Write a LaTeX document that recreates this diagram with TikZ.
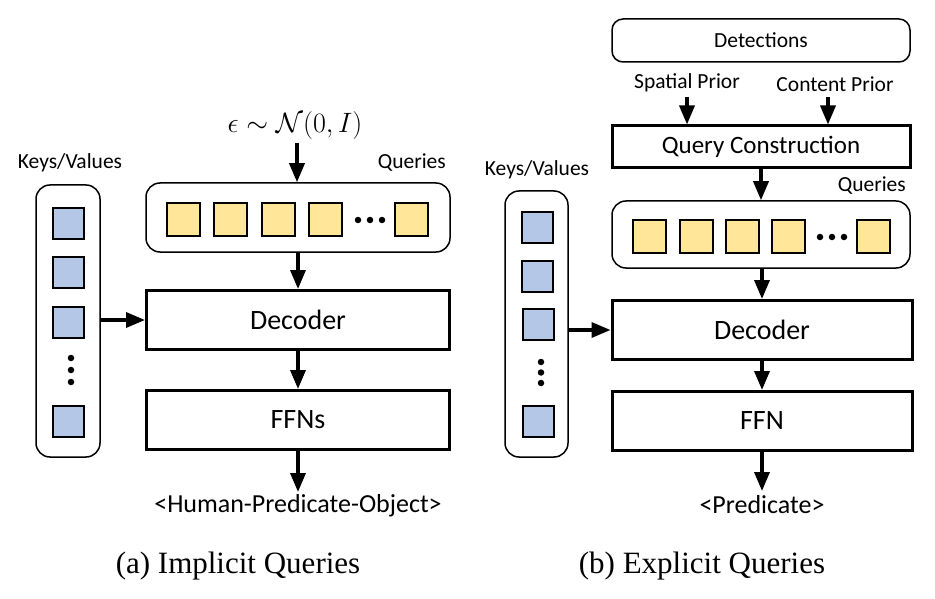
\RequirePackage{fix-cm}
\documentclass[tikz,border=0pt]{standalone}
\usepackage{fontspec}
\setmainfont{Carlito}
\newfontfamily\capfont{Liberation Serif}
\usetikzlibrary{arrows.meta}
\definecolor{kvblue}{RGB}{180,199,231}
\definecolor{qyellow}{RGB}{255,230,153}
\tikzset{
  thickbox/.style={draw, line width=3pt, minimum width=303, minimum height=59, inner sep=0pt, font=\fontsize{28}{30}\selectfont},
  roundbox/.style={draw, line width=1.5pt, rounded corners=14pt, inner sep=0pt},
  kvsq/.style={draw, line width=2pt, fill=kvblue, minimum size=31, inner sep=0pt},
  qsq/.style={draw, line width=2pt, fill=qyellow, minimum size=33, inner sep=0pt},
  lbl/.style={font=\fontsize{21.5}{24}\selectfont, inner sep=0pt},
  outlbl/.style={font=\fontsize{26}{28}\selectfont, inner sep=0pt},
  caplbl/.style={font=\capfont\fontsize{31}{34}\selectfont, inner sep=0pt},
  conn/.style={draw, line width=3.5pt, -{Triangle[length=19pt,width=15pt]}},
  blackdot/.style={circle, fill, inner sep=0pt, minimum size=6.5}
}
\begin{document}
\begin{tikzpicture}[x=1pt,y=-1pt]
\useasboundingbox (0,0) rectangle (935,599);
% ---------------- (a) ----------------
\node[lbl] (kvl1) at (70,163) {Keys/Values};
\node[roundbox, minimum width=64, minimum height=272] (kv1) at (68,321) {};
\node[kvsq] (a1) at (68.5,223.5) {};
\node[kvsq] (a2) at (68.5,272.5) {};
\node[kvsq] (a3) at (68.5,322) {};
\node[blackdot] (ad1) at (71,358) {};
\node[blackdot] (ad2) at (71,370) {};
\node[blackdot] (ad3) at (71,382) {};
\node[kvsq] (a4) at (68.5,421) {};

\node[font=\fontsize{28}{30}\selectfont, inner sep=0pt] (eps) at (295,126) {$\epsilon\sim\mathcal{N}(0,I)$};
\coordinate (epsa) at (297,143);
\node[lbl, anchor=east] (ql1) at (446,163) {Queries};
\node[roundbox, minimum width=304, minimum height=69] (qb1) at (298,217.5) {};
\node[qsq] (q11) at (183.5,219.5) {};
\node[qsq] (q12) at (230.5,219.5) {};
\node[qsq] (q13) at (278.5,219.5) {};
\node[qsq] (q14) at (325,219.5) {};
\node[blackdot] (qd11) at (358,220) {};
\node[blackdot] (qd12) at (370,220) {};
\node[blackdot] (qd13) at (382,220) {};
\node[qsq] (q15) at (411.5,219.5) {};

\node[thickbox] (dec1) at (298,320) {Decoder};
\node[thickbox] (ffn1) at (298,420) {FFNs};
\node[outlbl] (out1) at (298,506) {<Human-Predicate-Object>};
\coordinate (o1) at (298,492);

\draw[conn] (epsa) -- (epsa |- qb1.north);
\draw[conn] (qb1.south) -- (dec1.north);
\draw[conn] (dec1.south) -- (ffn1.north);
\draw[conn] (ffn1.south) -- (o1);
\draw[conn] (kv1.east |- dec1.west) -- (dec1.west);

\node[caplbl] (cap1) at (238,566) {(a) Implicit Queries};

% ---------------- (b) ----------------
\node[lbl] (kvl2) at (537,170) {Keys/Values};
\node[roundbox, minimum width=63, minimum height=266] (kv2) at (536.5,324) {};
\node[kvsq] (b1) at (537,227.5) {};
\node[kvsq] (b2) at (537,276) {};
\node[kvsq] (b3) at (538,324) {};
\node[blackdot] (bd1) at (541,362) {};
\node[blackdot] (bd2) at (541,372.5) {};
\node[blackdot] (bd3) at (541,383) {};
\node[kvsq] (b4) at (538,421) {};

\node[roundbox, rounded corners=11pt, minimum width=298, minimum height=43, lbl] (det) at (761,40.5) {Detections};
\node[lbl] (sp) at (687,83) {Spatial Prior};
\node[lbl] (cp) at (835,84) {Content Prior};
\node[thickbox, minimum width=298, minimum height=42, font=\fontsize{25}{28}\selectfont] (qc) at (761,147) {Query Construction};
\coordinate (spa) at (687,97);
\coordinate (cpa) at (828,97);
\draw[conn] (spa) -- (spa |- qc.north);
\draw[conn] (cpa) -- (cpa |- qc.north);

\node[lbl, anchor=east] (ql2) at (906,186) {Queries};
\node[roundbox, minimum width=298, minimum height=67] (qb2) at (761,234.5) {};
\node[qsq] (q21) at (649.5,236.5) {};
\node[qsq] (q22) at (696,236.5) {};
\node[qsq] (q23) at (742,236.5) {};
\node[qsq] (q24) at (788.5,236.5) {};
\node[blackdot] (qd21) at (820,237) {};
\node[blackdot] (qd22) at (832,237) {};
\node[blackdot] (qd23) at (844,237) {};
\node[qsq] (q25) at (873.5,236.5) {};

\node[thickbox, minimum width=300] (dec2) at (762,330) {Decoder};
\node[thickbox, minimum width=300] (ffn2) at (762,421) {FFN};
\node[outlbl] (out2) at (762,505) {<Predicate>};
\coordinate (o2) at (762,491);

\draw[conn] (qc.south -| qb2.north) -- (qb2.north);
\draw[conn] (qb2.south -| dec2.north) -- (dec2.north);
\draw[conn] (dec2.south) -- (ffn2.north);
\draw[conn] (ffn2.south) -- (o2);
\draw[conn] (kv2.east |- dec2.west) -- (dec2.west);

\node[caplbl] (cap2) at (702,566) {(b) Explicit Queries};
\end{tikzpicture}
\end{document}
